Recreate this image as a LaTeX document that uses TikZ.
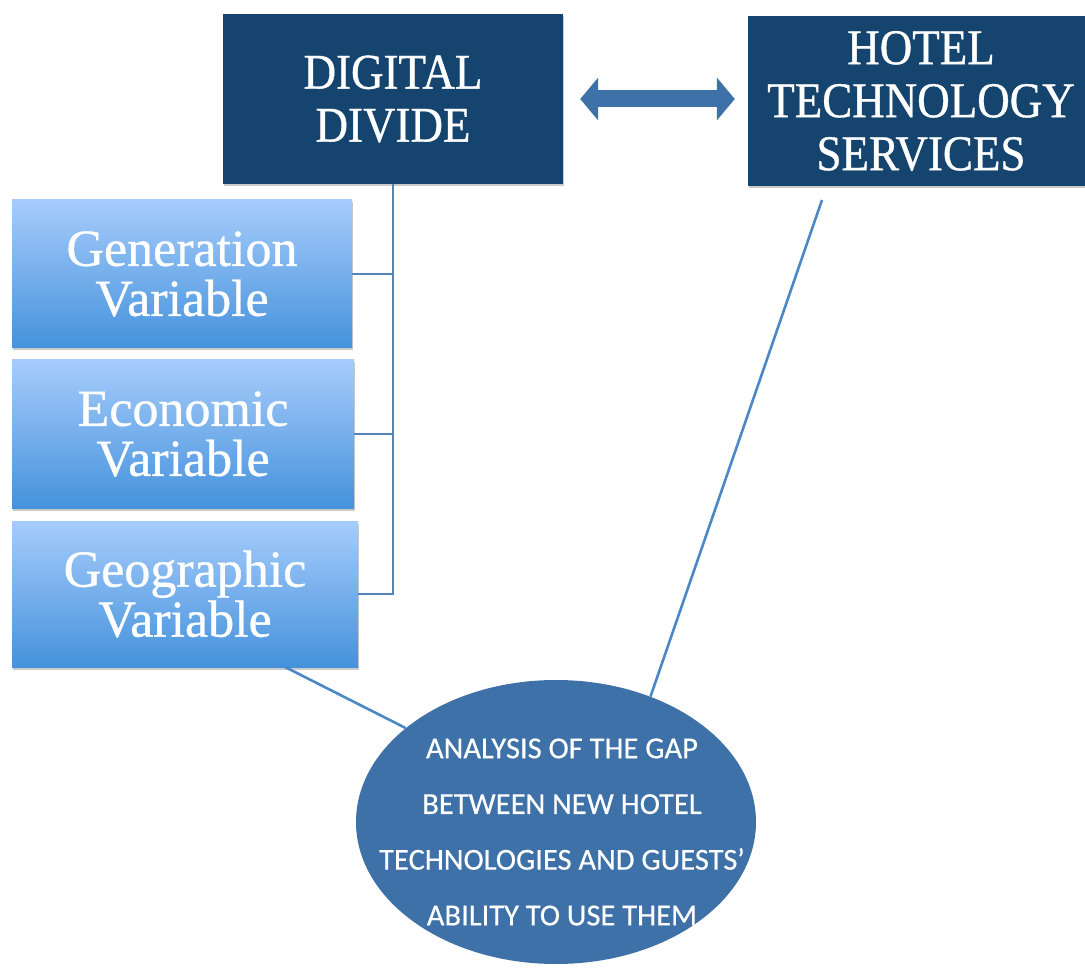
\documentclass[tikz,border=0pt]{standalone}
\usepackage{fontspec}
\setmainfont{Liberation Serif}
\newfontfamily\headfont[FakeStretch=0.9,FakeBold=0.7]{Liberation Serif}
\newfontfamily\varfont[FakeBold=0.7]{Liberation Serif}
\newfontfamily\ellfont[FakeBold=0.4]{Carlito}
\usetikzlibrary{shapes.geometric,arrows.meta,shadows,calc}

\definecolor{navy}{HTML}{15446F}
\definecolor{steel}{HTML}{3E71A7}
\definecolor{vartop}{HTML}{A6CCFB}
\definecolor{varbot}{HTML}{4592DC}
\definecolor{treeline}{HTML}{5383BC}
\definecolor{linkline}{HTML}{4C87C6}

\tikzset{
  softshadow/.style={drop shadow={shadow xshift=1pt, shadow yshift=-2.5pt, opacity=0.35, fill=black!60}},
  darkbox/.style={rectangle, fill=navy, text=white, inner sep=0pt, align=center,
    font=\headfont\fontsize{50}{53}\selectfont, softshadow},
  varbox/.style={rectangle, top color=vartop, bottom color=varbot, text=white,
    inner sep=0pt, align=center, font=\varfont\fontsize{52}{50}\selectfont, softshadow},
  gapellipse/.style={ellipse, fill=steel, inner sep=0pt,
    minimum width=400pt, minimum height=284pt},
  gaptext/.style={text=white, align=center, font=\ellfont\fontsize{30.5}{55.7}\selectfont},
  tree/.style={draw=treeline, line width=1.5pt},
  link/.style={draw=linkline, line width=2.6pt},
  twoway/.style={draw=steel, line width=17pt,
    {Triangle[width=42pt,length=18pt]}-{Triangle[width=42pt,length=18pt]}}
}

\begin{document}
\begin{tikzpicture}[x=1pt, y=-1pt]
\useasboundingbox (0,0) rectangle (1085,968);

% top boxes
\node[darkbox, minimum width=340pt, minimum height=170pt] (dd) at (393,99)
  {DIGITAL\\DIVIDE};
\node[darkbox, minimum width=346pt, minimum height=170pt] (hotel) at (921,101)
  {HOTEL\\TECHNOLOGY\\SERVICES};

% variable boxes
\node[varbox, minimum width=340pt, minimum height=148pt] (gen) at (182,274)
  {Generation\\Variable};
\node[varbox, minimum width=342pt, minimum height=148pt] (eco) at (183,434)
  {Economic\\Variable};
\node[varbox, minimum width=346pt, minimum height=146pt] (geo) at (185,594)
  {Geographic\\Variable};

% gap ellipse and its text
\node[gapellipse] (ell) at (556,822) {};
\node[gaptext] (elltext) at (562,832)
  {ANALYSIS OF THE GAP\\BETWEEN NEW HOTEL\\TECHNOLOGIES AND GUESTS’\\ABILITY TO USE THEM};

% two-way arrow between the top boxes
\draw[twoway, shorten <=17pt, shorten >=13pt] (dd.east) -- (dd.east -| hotel.west);

% tree from the digital divide to the variables
\draw[tree] (dd.south) |- (gen.east);
\draw[tree] (dd.south) |- (eco.east);
\draw[tree] (dd.south) |- (geo.east);

% links into the ellipse
\coordinate (geofoot) at ($(geo.south west)!0.79!(geo.south east)$);
\coordinate (hotelfoot) at (822,200);
\draw[link] (geofoot) -- (ell.148);
\draw[link] (hotelfoot) -- (ell.53);
\end{tikzpicture}
\end{document}
